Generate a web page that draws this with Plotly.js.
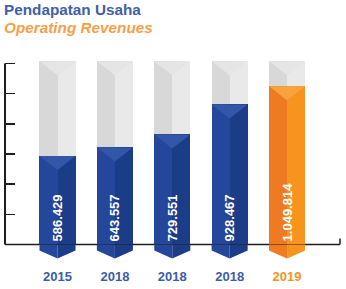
<!DOCTYPE html>
<html>
<head>
<meta charset="utf-8">
<script src="https://cdn.plot.ly/plotly-3.0.1.min.js"></script>
<style>
  html, body { margin: 0; padding: 0; background: #fff; }
  #chart { width: 346px; height: 289px; }
</style>
</head>
<body>
<div id="chart"></div>
<script>
// Operating revenues per year
const years = ['2015', '2018', '2018', '2018', '2019'];
const revenue = [586429, 643557, 729551, 928467, 1049814];
const yTicks = [0, 200000, 400000, 600000, 800000, 1000000, 1200000];

// Geometry of the "tube" bars (category / value units)
const TRACK_TOP = 1215000;  // top of the grey track behind each bar
const HALF = 0.314;         // half of a bar's width
const CAP = 93000;          // depth of the chevron at the top of a bar
const FOOT = 40000;         // straight sides continue this far below zero
const TIP = 93000;          // depth of the pointed foot below zero

const blue = { left: '#24479c', right: '#1b3c87', cap: '#3256a8' };
const orange = { left: '#ee7b21', right: '#f7941d', cap: '#f9a33e' };
const grey = { left: '#d8d8d8', right: '#e9e9e9', cap: '#e5e5e5' };
const axisColor = '#1e1e1e';

const xs = years.map((_, i) => i);
const last = years.length - 1;
const tone = xs.map(i => (i === last ? orange : blue));

function halfBar(values, colors, side) {
  return {
    type: 'bar', x: xs, y: values,
    width: HALF, offset: side === 'left' ? -HALF : 0,
    marker: { color: colors, line: { width: 0 } },
    hoverinfo: 'skip', showlegend: false
  };
}

const track = xs.map(() => TRACK_TOP);
const traces = [
  halfBar(track, grey.left, 'left'),
  halfBar(track, grey.right, 'right'),
  halfBar(revenue, tone.map(t => t.left), 'left'),
  halfBar(revenue, tone.map(t => t.right), 'right'),
  {
    // transparent full-width bar that carries the value labels
    type: 'bar', x: xs, y: revenue, width: 2 * HALF,
    marker: { color: 'rgba(0,0,0,0)', line: { width: 0 } },
    texttemplate: '%{y:,.0f}', textposition: 'inside',
    insidetextanchor: 'start', textangle: -90,
    textfont: { family: 'Liberation Sans, Arial, sans-serif', size: 13, color: '#ffffff', weight: 'bold' },
    hoverinfo: 'skip', showlegend: false
  }
];

function poly(points, fill) {
  const d = 'M ' + points.map(p => p[0] + ',' + p[1]).join(' L ') + ' Z';
  return { type: 'path', path: d, xref: 'x', yref: 'y', fillcolor: fill, line: { width: 0 }, layer: 'above' };
}

const shapes = [
  // baseline, drawn behind the bars
  { type: 'line', xref: 'paper', yref: 'y', x0: 0, x1: 1, y0: 0, y1: 0, line: { color: axisColor, width: 1.5 }, layer: 'below' },
  // small end tick at the right of the baseline
  { type: 'line', xref: 'paper', yref: 'y', x0: 1, x1: 1, y0: 0, y1: 40000, line: { color: axisColor, width: 1.5 }, layer: 'below' },
  // value axis line
  { type: 'line', xref: 'paper', yref: 'y', x0: 0, x1: 0, y0: 0, y1: yTicks[yTicks.length - 1], line: { color: axisColor, width: 2 }, layer: 'above' }
];

xs.forEach(i => {
  const v = revenue[i], t = tone[i];
  const l = i - HALF, r = i + HALF;
  // chevron at the top of the grey track
  shapes.push(poly([[l, TRACK_TOP], [r, TRACK_TOP], [i, TRACK_TOP - CAP]], grey.cap));
  // chevron at the top of the value bar
  shapes.push(poly([[l, v], [r, v], [i, v - CAP]], t.cap));
  // pointed foot below the baseline
  shapes.push(poly([[l, 0], [l, -FOOT], [i, -TIP], [i, 0]], t.left));
  shapes.push(poly([[i, 0], [i, -TIP], [r, -FOOT], [r, 0]], t.right));
});

const tickText = years.map((y, i) =>
  '<span style="color:' + (i === last ? '#f7931e' : '#3b5ca8') + '">' + y + '</span>');

const layout = {
  width: 346, height: 289,
  margin: { l: 5, r: 6, t: 59, b: 28, pad: 0 },
  paper_bgcolor: '#ffffff', plot_bgcolor: '#ffffff',
  barmode: 'overlay', bargap: 0,
  separators: ',.',
  font: { family: 'Liberation Sans, Arial, sans-serif' },
  xaxis: {
    range: [-0.915, 4.923], tickvals: xs, ticktext: tickText,
    tickfont: { size: 13, weight: 'bold', color: '#3b5ca8' },
    ticklabelstandoff: 6,
    ticks: '', showgrid: false, zeroline: false, showline: false,
    fixedrange: true
  },
  yaxis: {
    range: [-110000, 1230000], tickvals: yTicks, showticklabels: false,
    ticks: 'inside', ticklen: 10, tickwidth: 1.5, tickcolor: axisColor,
    showgrid: false, zeroline: false, showline: false, fixedrange: true
  },
  shapes: shapes,
  annotations: [
    {
      text: 'Pendapatan Usaha', xref: 'paper', yref: 'paper',
      x: -0.009, y: 1.245, xanchor: 'left', yanchor: 'middle', showarrow: false,
      font: { size: 15.3, color: '#4060aa', weight: 'bold' }
    },
    {
      text: '<i>Operating Revenues</i>', xref: 'paper', yref: 'paper',
      x: -0.009, y: 1.156, xanchor: 'left', yanchor: 'middle', showarrow: false,
      font: { size: 15.3, color: '#f5a04b', weight: 'bold' }
    }
  ]
};

Plotly.newPlot('chart', traces, layout, { displayModeBar: false, staticPlot: true });
</script>
</body>
</html>
